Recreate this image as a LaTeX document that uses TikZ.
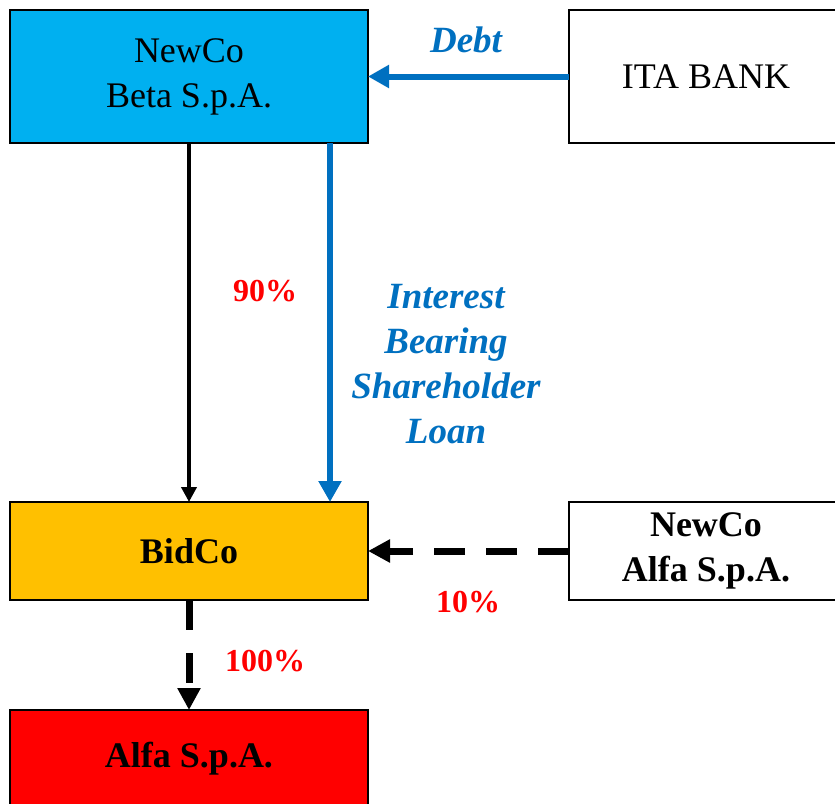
\documentclass[tikz,border=0pt]{standalone}
\usepackage{fontspec}
\setmainfont{Liberation Serif}
\usetikzlibrary{arrows.meta}

\definecolor{betablue}{HTML}{00B0F0}
\definecolor{flowblue}{HTML}{0070C0}
\definecolor{bidorange}{HTML}{FFC000}
\definecolor{alfared}{HTML}{FF0000}

\tikzset{
  entity/.style={draw=black, line width=2pt, outer sep=0pt, align=center,
    inner sep=0pt, font=\fontsize{36}{45}\selectfont},
  flowlabel/.style={text=flowblue, align=center,
    font=\fontsize{37}{45}\selectfont\bfseries\itshape},
  sharelabel/.style={text=alfared, font=\fontsize{32}{40}\selectfont\bfseries},
  owns/.style={draw=black, line width=4.5pt,
    -{Triangle[length=15pt,width=15pt]}},
  funds/.style={draw=flowblue, line width=6pt,
    -{Triangle[length=21pt,width=22pt]}},
  ownsdash/.style={draw=black, line width=7pt, dash pattern=on 31pt off 21pt,
    -{Triangle[length=22pt,width=22pt]}},
}

\begin{document}
\begin{tikzpicture}[x=1pt, y=-1pt]
  \clip (0,0) rectangle (835,803);
  \fill[white] (0,0) rectangle (835,803);

  % entities
  \node[entity, fill=betablue, minimum width=358pt, minimum height=133pt]
    (beta) at (189,76.5) {NewCo\\Beta S.p.A.};
  \node[entity, fill=white, minimum width=274pt, minimum height=133pt]
    (bank) at (706,76.5) {ITA BANK};
  \node[entity, fill=bidorange, minimum width=358pt, minimum height=98pt,
    font=\fontsize{36}{45}\selectfont\bfseries]
    (bidco) at (189,551) {BidCo};
  \node[entity, fill=white, minimum width=274pt, minimum height=98pt,
    font=\fontsize{36}{45}\selectfont\bfseries]
    (newalfa) at (706,551) {NewCo\\Alfa S.p.A.};
  \node[entity, fill=alfared, minimum width=358pt, minimum height=98pt,
    font=\fontsize{36}{45}\selectfont\bfseries]
    (alfa) at (189,759) {Alfa S.p.A.};

  % connectors
  \draw[funds] (bank.west) -- (beta.east);
  \draw[owns] (beta.south) -- (bidco.north);
  \draw[funds] ([xshift=141pt]beta.south) -- ([xshift=141pt]bidco.north);
  \draw[ownsdash] (newalfa.west) -- (bidco.east);
  \draw[ownsdash, dash pattern=on 30pt off 23pt] (bidco.south) -- (alfa.north);

  % labels
  \node[flowlabel] (debt) at (466,40) {Debt};
  \node[flowlabel] (loan) at (446,364) {Interest\\Bearing\\Shareholder\\Loan};
  \node[sharelabel] (p90) at (265,291) {90\%};
  \node[sharelabel] (p10) at (468,602) {10\%};
  \node[sharelabel] (p100) at (265,661) {100\%};
\end{tikzpicture}
\end{document}
